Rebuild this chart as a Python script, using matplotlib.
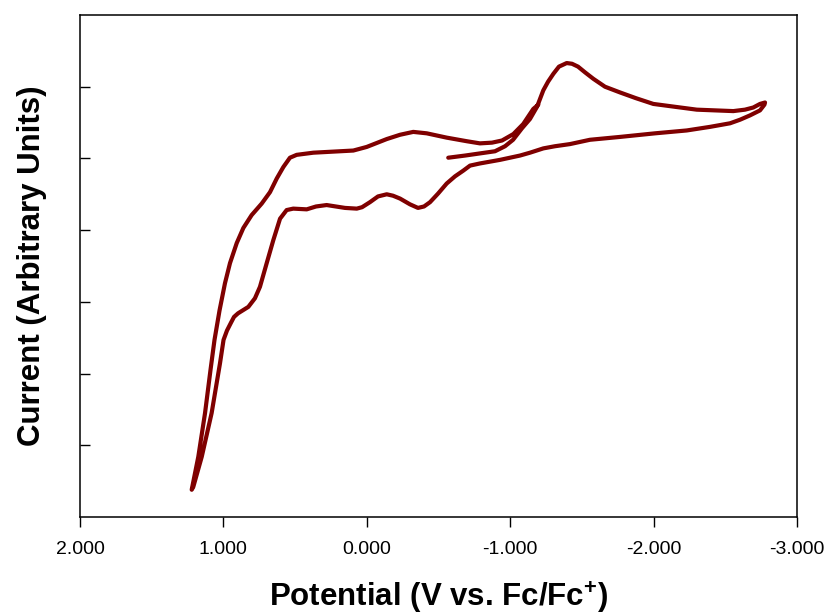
import numpy as np
import matplotlib.pyplot as plt
from matplotlib.ticker import FixedLocator, FormatStrFormatter

plt.rcParams['font.family'] = ['Liberation Sans', 'DejaVu Sans']
plt.rcParams['mathtext.fontset'] = 'custom'
plt.rcParams['mathtext.bf'] = 'Liberation Sans:bold'
plt.rcParams['mathtext.rm'] = 'Liberation Sans:bold'

# potential (V vs Fc/Fc+) and current (arbitrary units) in scan order
potential = [-0.568, -0.685, -0.789, -0.894, -0.964, -1.020, -1.082, -1.138, -1.187,
             -1.231, -1.264, -1.301, -1.340, -1.394, -1.431, -1.473, -1.522, -1.580,
             -1.661, -1.766, -1.877, -1.998, -2.149, -2.301, -2.428, -2.556, -2.637,
             -2.695, -2.742, -2.777, -2.773, -2.742, -2.672, -2.603, -2.533, -2.393,
             -2.231, -2.010, -1.766, -1.556, -1.417, -1.312, -1.231, -1.138, -1.068,
             -0.929, -0.789, -0.720, -0.673, -0.615, -0.557, -0.497, -0.441, -0.399,
             -0.357, -0.301, -0.232, -0.183, -0.139, -0.078, -0.022, 0.033, 0.070,
             0.152, 0.280, 0.354, 0.419, 0.513, 0.559, 0.605, 0.652, 0.698, 0.745,
             0.780, 0.826, 0.898, 0.926, 0.947, 0.975, 0.999, 1.024, 1.082, 1.151, 1.210,
             1.221, 1.175, 1.128, 1.090, 1.062, 1.027, 0.989, 0.954, 0.907, 0.861,
             0.803, 0.733, 0.675, 0.628, 0.582, 0.536, 0.489, 0.373, 0.094, 0.001,
             -0.139, -0.232, -0.324, -0.418, -0.557, -0.697, -0.789, -0.873, -0.943,
             -1.022, -1.091, -1.161, -1.196]
current = [5.01, 5.04, 5.07, 5.10, 5.17, 5.26, 5.42, 5.55, 5.72,
           5.95, 6.07, 6.18, 6.28, 6.33, 6.32, 6.28, 6.20, 6.11,
           6.00, 5.92, 5.84, 5.76, 5.72, 5.68, 5.67, 5.66, 5.68,
           5.71, 5.76, 5.78, 5.75, 5.67, 5.60, 5.54, 5.49, 5.44,
           5.39, 5.35, 5.30, 5.26, 5.20, 5.17, 5.14, 5.08, 5.04,
           4.98, 4.93, 4.90, 4.83, 4.75, 4.65, 4.51, 4.39, 4.33,
           4.31, 4.36, 4.44, 4.48, 4.50, 4.47, 4.39, 4.32, 4.30,
           4.31, 4.35, 4.33, 4.29, 4.30, 4.28, 4.16, 3.86, 3.54, 3.21,
           3.05, 2.93, 2.84, 2.79, 2.71, 2.60, 2.47, 2.14, 1.45, 0.84, 0.42,
           0.38, 0.84, 1.45, 2.05, 2.47, 2.88, 3.26, 3.54, 3.82, 4.03,
           4.21, 4.37, 4.53, 4.72, 4.88, 5.01, 5.05, 5.08, 5.11, 5.16,
           5.27, 5.33, 5.37, 5.35, 5.29, 5.24, 5.21, 5.22, 5.25,
           5.34, 5.48, 5.69, 5.75]

x_ticks = [2.0, 1.0, 0.0, -1.0, -2.0, -3.0]
y_ticks = [1, 2, 3, 4, 5, 6]

fig = plt.figure(figsize=(8.31, 6.16), dpi=100)
ax = fig.add_axes([80/831, 99/616, 717/831, 502/616])

ax.plot(potential, current, color='#7f0000', lw=3.0,
        solid_capstyle='round', solid_joinstyle='round')

ax.set_xlim(2.0, -3.0)
ax.set_ylim(0, 7)
ax.xaxis.set_major_locator(FixedLocator(x_ticks))
ax.xaxis.set_major_formatter(FormatStrFormatter('%.3f'))
ax.yaxis.set_major_locator(FixedLocator(y_ticks))
ax.set_yticklabels([])

ax.tick_params(axis='x', direction='out', length=7, width=1, labelsize=14, pad=10)
ax.tick_params(axis='y', direction='in', length=7, width=1)
for s in ax.spines.values():
    s.set_linewidth(1.1)

ax.set_xlabel(r'Potential (V vs. Fc/Fc$^{\mathbf{+}}$)', fontsize=22.5,
              fontweight='bold', labelpad=16)
ax.set_ylabel('Current (Arbitrary Units)', fontsize=22.5, fontweight='bold', labelpad=20)

fig.savefig('out.png', dpi=100)
